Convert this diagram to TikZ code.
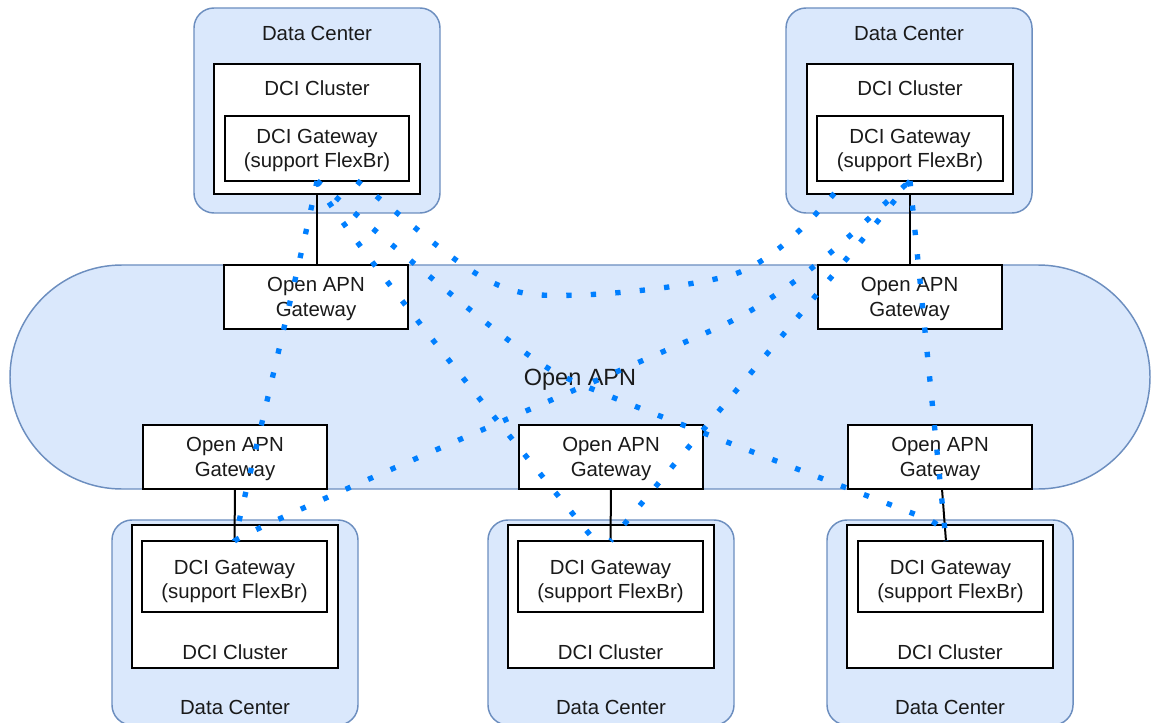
\documentclass[tikz,border=0pt]{standalone}
\usepackage{fontspec}
\setmainfont{Liberation Sans}
\definecolor{dcfill}{HTML}{DAE8FC}
\definecolor{dcline}{HTML}{6C8EBF}
\definecolor{dotblue}{HTML}{007FFF}
\definecolor{txt}{HTML}{1A1A1A}
\begin{document}
\begin{tikzpicture}[x=0.75pt,y=-0.75pt,
  every node/.style={font=\fontsize{15.3}{18.4}\selectfont, text=txt, inner sep=0pt, outer sep=0pt, text depth=0pt},
  dcbox/.style={draw=dcline, fill=dcfill, line width=1.1pt, rounded corners=15pt, minimum width=184.5pt, minimum height=153.75pt},
  clbox/.style={draw=black, fill=white, line width=1.5pt, minimum width=154.5pt},
  gwbox/.style={draw=black, fill=white, line width=1.5pt, minimum width=138pt, align=center},
  bgwbox/.style={gwbox, minimum height=53.25pt, minimum width=138.75pt},
  gwtext/.style={align=center},
  apnbox/.style={draw=black, fill=white, line width=1.5pt, minimum width=138pt, minimum height=48pt, align=center},
  link/.style={draw=black, line width=1.5pt},
  dotline/.style={draw=dotblue, line width=4pt, dash pattern=on 4pt off 14.4pt}
]
\useasboundingbox (0,0) rectangle (1151,723);

% Open APN cloud
\node[draw=dcline, fill=dcfill, line width=1.1pt, rounded corners=84pt, minimum width=855pt, minimum height=168pt,
      font=\fontsize{17.6}{21}\selectfont] (apn) at (580,377) {Open APN};

% top data centers
\node[dcbox] (tldc) at (317,110.5) {};
\node (tldcl) at (317,33) {Data Center};
\node[clbox, minimum height=97.5pt] (tlcl) at (317,129) {};
\node (tlcll) at (317,88) {DCI Cluster};
\node[gwbox, minimum height=48.75pt] (tlgw) at (317,148.5) {DCI Gateway\\(support FlexBr)};

\node[dcbox] (trdc) at (909,110.5) {};
\node (trdcl) at (909,33) {Data Center};
\node[clbox, minimum height=97.5pt] (trcl) at (910,129) {};
\node (trcll) at (910,88) {DCI Cluster};
\node[gwbox, minimum height=48.75pt, minimum width=139.5pt] (trgw) at (910,148.5) {DCI Gateway\\(support FlexBr)};

% bottom data centers
\node[dcbox] (bldc) at (235,622.5) {};
\node (bldcl) at (235,707) {Data Center};
\node[clbox, minimum height=107.25pt] (blcl) at (235,596.5) {};
\node (blcll) at (235,652) {DCI Cluster};
\node[bgwbox] (blgw) at (234.5,576.5) {};
\node[gwtext] (blgwt) at (234.5,579.5) {DCI Gateway\\(support FlexBr)};

\node[dcbox] (bmdc) at (611,622.5) {};
\node (bmdcl) at (611,707) {Data Center};
\node[clbox, minimum height=107.25pt] (bmcl) at (610.5,596.5) {};
\node (bmcll) at (610.5,652) {DCI Cluster};
\node[bgwbox] (bmgw) at (610.5,576.5) {};
\node[gwtext] (bmgwt) at (610.5,579.5) {DCI Gateway\\(support FlexBr)};

\node[dcbox] (brdc) at (950,622.5) {};
\node (brdcl) at (950,707) {Data Center};
\node[clbox, minimum height=107.25pt] (brcl) at (950,596.5) {};
\node (brcll) at (950,652) {DCI Cluster};
\node[bgwbox] (brgw) at (950.5,576.5) {};
\node[gwtext] (brgwt) at (950.5,579.5) {DCI Gateway\\(support FlexBr)};

% Open APN gateways
\node[apnbox] (tlapn) at (316,297) {Open APN\\Gateway};
\node[apnbox] (trapn) at (909.5,297) {Open APN\\Gateway};
\node[apnbox] (blapn) at (235,457) {Open APN\\Gateway};
\node[apnbox] (bmapn) at (611,457) {Open APN\\Gateway};
\node[apnbox] (brapn) at (940,457) {Open APN\\Gateway};

% solid links
\draw[link] (tlcl.south) -- (tlcl.south |- tlapn.north);
\draw[link] (trcl.south) -- (trcl.south |- trapn.north);
\draw[link] (blapn.south) -- (blgw.north);
\draw[link] (bmapn.south) -- (bmgw.north);
\coordinate (brin) at ([xshift=-3.4pt]brgw.north);
\draw[link] ([xshift=1.5pt]brapn.south) -- (brin);

% dotted links
\coordinate (tlout) at ([xshift=30pt]tlgw.south);
\coordinate (trin) at ([xshift=-48.75pt]trgw.south);
\coordinate (bmin) at ([xshift=-11.6pt]bmgw.north);
\draw[dotline] (tlgw.south) .. controls (305,240) and (260,430) .. (blgw.north);
\draw[dotline] (tlgw.south) .. controls (322,205) and (500,425) .. (bmin);
\draw[dotline] (tlgw.south) .. controls (470,312) and (530,360) .. (560,375)
   .. controls (600,395) and (880,500) .. (927,519)
   .. controls (940,524) and (945,532) .. (brin);
\draw[dotline] (tlout) .. controls (440,245) and (480,292) .. (540,295)
   .. controls (600,298) and (700,285) .. (735,274)
   .. controls (780,258) and (820,210) .. (trin);
\draw[dotline] (blgw.north) .. controls (250,528) and (600,380) .. (717,328)
   .. controls (800,291) and (870,215) .. (trgw.south);
\draw[dotline] (trgw.south) .. controls (885,215) and (660,480) .. (bmgw.north);
\draw[dotline] (trgw.south) -- (brin);
\end{tikzpicture}
\end{document}
